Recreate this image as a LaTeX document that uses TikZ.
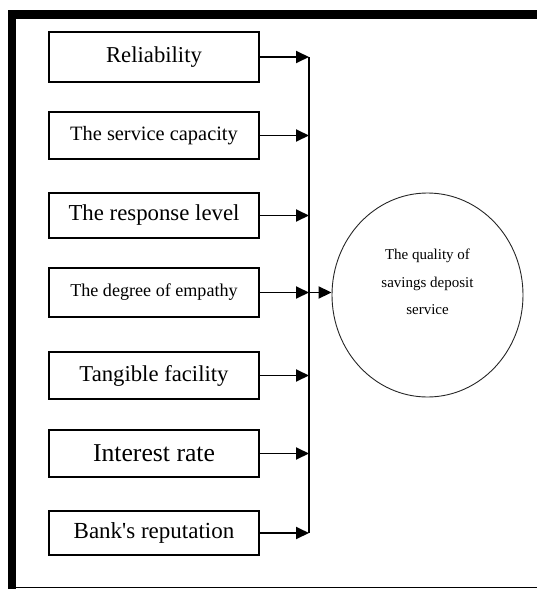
\documentclass[tikz,border=0pt]{standalone}
\usepackage{fontspec}
\setmainfont{Liberation Serif}
\usetikzlibrary{arrows.meta,shapes.geometric}
\begin{document}
\begin{tikzpicture}[x=1pt,y=-1pt,
  box/.style={draw,line width=1.3pt,minimum width=210pt,inner sep=0pt,anchor=center},
  arr/.style={line width=1.9pt,-{Triangle[length=13pt,width=12pt]}},
  bus/.style={line width=1.3pt}]
\useasboundingbox (0,0) rectangle (537,589);
% frame
\fill (8,10) rectangle (537,19);
\fill (8,10) rectangle (16,589);
\draw[line width=1.5pt] (8,587.5) -- (537,587.5);
% boxes
\node[box,minimum height=50pt,font=\fontsize{22.7}{27}\selectfont] (b1) at (154,57) {Reliability};
\node[box,minimum height=47pt,font=\fontsize{20.4}{25}\selectfont] (b2) at (154,135.5) {The service capacity};
\node[box,minimum height=45pt,font=\fontsize{22.8}{27}\selectfont] (b3) at (154,215.5) {The response level};
\node[box,minimum height=49pt,font=\fontsize{18.1}{22}\selectfont] (b4) at (154,292.5) {The degree of empathy};
\node[box,minimum height=47pt,font=\fontsize{22.7}{27}\selectfont] (b5) at (154,375.5) {Tangible facility};
\node[box,minimum height=47pt,font=\fontsize{25.7}{30}\selectfont] (b6) at (154,453.5) {Interest rate};
\node[box,minimum height=44pt,font=\fontsize{23}{27}\selectfont] (b7) at (154,533) {Bank\textquotesingle s reputation};
% circle
\node[ellipse,draw,line width=0.9pt,draw=black!85,minimum width=191pt,minimum height=204pt,inner sep=0pt] (q) at (427.5,295) {};
\node[align=center,font=\fontsize{15}{27.5}\selectfont,inner sep=0pt] (qt) at ([yshift=13pt]q.center) {The quality of\\savings deposit\\service};
% bus
\coordinate (busx) at (309,0);
\draw[bus] (b1.east -| busx) -- (b7.east -| busx);
\foreach \b in {b1,b2,b3,b4,b5,b6,b7}{
  \draw[arr] (\b.east) -- (\b.east -| busx);
}
\draw[arr] (b4.east -| busx) -- (b4.east -| q.west);
\end{tikzpicture}
\end{document}
